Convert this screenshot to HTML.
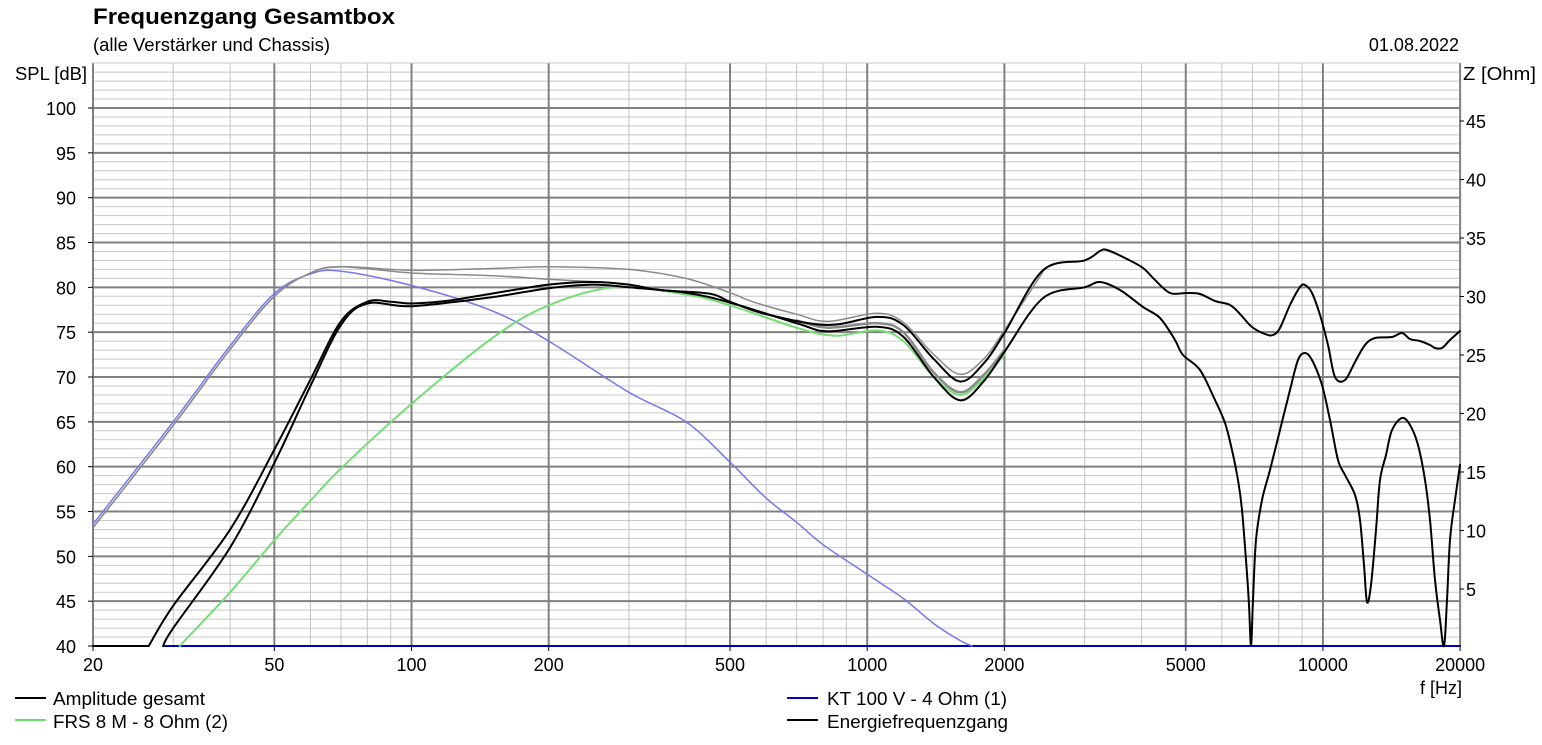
<!DOCTYPE html>
<html><head><meta charset="utf-8">
<style>
body{margin:0;background:#fff;}
svg{display:block;font-family:"Liberation Sans","DejaVu Sans",sans-serif;}
</style></head>
<body>
<svg id="s" width="1542" height="745" viewBox="0 0 1542 745" xmlns="http://www.w3.org/2000/svg">
<rect width="1542" height="745" fill="#fff"/>
<g id="grid"></g>
<g id="curves" fill="none" stroke-linejoin="round" stroke-linecap="round"></g>
<text x="93" y="24" font-size="22" font-weight="bold" textLength="302" lengthAdjust="spacingAndGlyphs">Frequenzgang Gesamtbox</text>
<text x="93" y="51" font-size="18" textLength="237" lengthAdjust="spacingAndGlyphs">(alle Verstärker und Chassis)</text>
<text x="1459" y="51" font-size="18" text-anchor="end">01.08.2022</text>
<text x="15" y="80" font-size="18" textLength="72" lengthAdjust="spacingAndGlyphs">SPL [dB]</text>
<text x="1463" y="80" font-size="18" textLength="73" lengthAdjust="spacingAndGlyphs">Z [Ohm]</text>
<text x="1420" y="694" font-size="18">f [Hz]</text>
<g font-size="18">
<line x1="15" y1="698" x2="46" y2="698" stroke="#000" stroke-width="2"/>
<text x="53" y="705" textLength="152" lengthAdjust="spacingAndGlyphs">Amplitude gesamt</text>
<line x1="15" y1="720" x2="46" y2="720" stroke="#66dd66" stroke-width="2"/>
<text x="53" y="728" textLength="175" lengthAdjust="spacingAndGlyphs">FRS 8 M - 8 Ohm (2)</text>
<line x1="787" y1="698" x2="818" y2="698" stroke="#0000cc" stroke-width="2"/>
<text x="827" y="705" textLength="180" lengthAdjust="spacingAndGlyphs">KT 100 V - 4 Ohm (1)</text>
<line x1="787" y1="720" x2="818" y2="720" stroke="#000" stroke-width="2"/>
<text x="827" y="728" textLength="181" lengthAdjust="spacingAndGlyphs">Energiefrequenzgang</text>
</g>
<g id="labels" font-size="18"></g>
</svg>
<script>
const NS="http://www.w3.org/2000/svg";
const X0=93,X1=1460,DEC=455.7,Y100=108,PDB=8.967;
const fx=f=>X0+DEC*Math.log10(f/20);
const dy=d=>Y100+(100-d)*PDB;
function el(p,tag,a,txt){const e=document.createElementNS(NS,tag);for(const k in a)e.setAttribute(k,a[k]);if(txt!=null)e.textContent=txt;document.getElementById(p).appendChild(e);return e;}
for(let d=40;d<=105;d++){const y=dy(d);if(d%5)el("grid","line",{x1:X0,x2:X1,y1:y,y2:y,stroke:"#c8c8c8","stroke-width":1});}
const freqs=[];
for(let dec=10;dec<=10000;dec*=10)for(let m=1;m<10;m++){const f=m*dec;if(f>=20&&f<=20000)freqs.push(f);}
const major=[20,50,100,200,500,1000,2000,5000,10000,20000];
freqs.forEach(f=>{if(!major.includes(f)){const x=fx(f);el("grid","line",{x1:x,x2:x,y1:63,y2:646,stroke:"#c4c4c4","stroke-width":1});}});
for(let d=45;d<=100;d+=5){const y=dy(d);el("grid","line",{x1:X0,x2:X1,y1:y,y2:y,stroke:"#808080","stroke-width":2});}
major.forEach(f=>{const x=fx(f);el("grid","line",{x1:x,x2:x,y1:63,y2:646,stroke:"#808080","stroke-width":2});});
el("grid","line",{x1:X0,x2:X1,y1:63,y2:63,stroke:"#c8c8c8","stroke-width":1});
for(let d=40;d<=100;d+=5){const y=dy(d);el("grid","line",{x1:88,x2:X0,y1:y,y2:y,stroke:"#000","stroke-width":1});el("labels","text",{x:76,y:y+7,"text-anchor":"end"},""+d);}
for(let z=5;z<=45;z+=5){const y=647.5-z*11.7;el("grid","line",{x1:X1,x2:X1+4,y1:y,y2:y,stroke:"#000","stroke-width":1});el("labels","text",{x:1466,y:y+7},""+z);}
major.forEach(f=>{const x=fx(f);el("grid","line",{x1:x,x2:x,y1:646,y2:651,stroke:"#000","stroke-width":1});el("labels","text",{x:x,y:671,"text-anchor":"middle"},""+f);});
function pts(a){return a.map(p=>p[0]==="p"?[p[1],p[2]]:[fx(p[0]),dy(p[1])]);}
function smooth(P){let d="M"+P[0][0].toFixed(1)+","+P[0][1].toFixed(1);
for(let i=0;i<P.length-1;i++){const p0=P[i-1]||P[i],p1=P[i],p2=P[i+1],p3=P[i+2]||p2;
const c1=[p1[0]+(p2[0]-p0[0])/6,p1[1]+(p2[1]-p0[1])/6],c2=[p2[0]-(p3[0]-p1[0])/6,p2[1]-(p3[1]-p1[1])/6];
d+="C"+c1.map(v=>v.toFixed(1))+" "+c2.map(v=>v.toFixed(1))+" "+p2.map(v=>v.toFixed(1));}return d;}
function draw(a,col,w){el("curves","path",{d:smooth(pts(a)),stroke:col,"stroke-width":w});}
const LF=[[20,53.2],[30,64.6],[40,73.1],[50,79],[60,81.6],[70,82.3]];
const hiUp=[[1100,251],[1107,250],[1125,258],[1143,268],[1155,280],[1170,293],[1187,293],[1200,294],[1215,301],[1230,305],[1240,314],[1252,327],[1265,334],[1273,335],[1280,328],[1290,305],[1300,287],[1305,285],[1312,293],[1320,315],[1328,345],[1335,377],[1345,380],[1355,362],[1365,345],[1375,338],[1392,337],[1402,333],[1410,339],[1420,341],[1430,345],[1435,348],[1442,348],[1450,340],[1460,331]].map(p=>["p",p[0],p[1]]);
const hiLo=[[1100,282],[1120,290],[1143,307],[1160,318],[1175,340],[1183,355],[1200,370],[1215,400],[1225,423],[1232,450],[1238,480],[1242,510],[1246,560],[1249,605],[1251,645],[1253,600],[1256,540],[1262,500],[1270,470],[1280,430],[1290,390],[1298,360],[1305,353],[1312,360],[1322,385],[1330,420],[1338,460],[1345,475],[1355,495],[1360,520],[1364,565],[1367,602],[1371,585],[1376,530],[1380,480],[1386,455],[1392,430],[1402,418],[1410,425],[1418,445],[1425,480],[1430,520],[1435,580],[1440,620],[1444,646],[1447,600],[1450,540],[1455,500],[1460,465]].map(p=>["p",p[0],p[1]]);
el("curves","line",{x1:fx(28.5),x2:X1,y1:646,y2:646,stroke:"#0000bb","stroke-width":2});
draw([[20,53.6],[30,65],[40,73.5],[50,79.3],[60,81.5],[70,81.8],[100,80.2],[150,77.4],[200,74],[300,68.3],[400,65],[500,60.5],[600,56.5],[700,53.8],[800,51.3],[1000,48],[1200,45.3],[1400,42.5],[1600,40.6],[1700,40]],"#7878e8",1.5);
draw(LF.concat([[100,81.6],[150,81.3],[200,80.9],[260,80.6]]),"#8a8a8a",1.5);
draw(LF.concat([[100,81.9],[150,82.1],[200,82.3],[300,82],[400,81],[500,79.4],[560,78.4],[700,77],[820,76.2],[1050,77.1],[1200,76.1],[1400,72.5],[1600,70.3],[1800,72],[2000,75.2],[2450,82]]),"#8a8a8a",1.5);
draw([[700,76.3],[820,75.5],[1050,76],[1200,75],[1400,70.5],[1600,68.3],[1800,70.2],[2000,73]],"#8a8a8a",2.5);
draw([[31,40],[40,46],[50,51.8],[60,56.2],[70,59.8],[100,67],[150,74.3],[200,78],[280,80],[400,79.2],[500,78],[700,75.5],[850,74.6],[1050,75.2],[1200,74],[1400,70],[1600,68],[1800,69.8],[2000,72.5]],"#77dd77",2);
el("curves","line",{x1:X0,x2:fx(26.5),y1:646,y2:646,stroke:"#000","stroke-width":2});
draw([[26.5,40],[30,44.5],[40,53],[50,61.9],[60,69.7],[70,76.2],[80,78.4],[90,78.4],[100,78.2],[120,78.5],[150,79.3],[200,80.3],[250,80.6],[300,80.3],[350,79.7],[450,79.3],[500,78.4],[600,77],[817,75.8],[1050,76.7],[1200,75.8],[1400,72],[1600,69.5],[1800,71.5],[2000,74.9],[2431,81.9],[3000,83],["p",1100,251]].concat(hiUp.slice(1)),"#000",2);
draw([[28.5,40],[30,42],[40,51],[50,60.4],[60,69],[70,75.8],[80,78.2],[100,77.9],[150,78.9],[200,79.9],[250,80.3],[300,80],[400,79.4],[500,78.3],[700,76],[817,75.1],[1050,75.6],[1200,74.5],[1400,70],[1600,67.4],[1800,69.5],[2000,72.8],[2431,78.8],[3000,80]].concat(hiLo),"#000",2);
</script>
</body></html>
